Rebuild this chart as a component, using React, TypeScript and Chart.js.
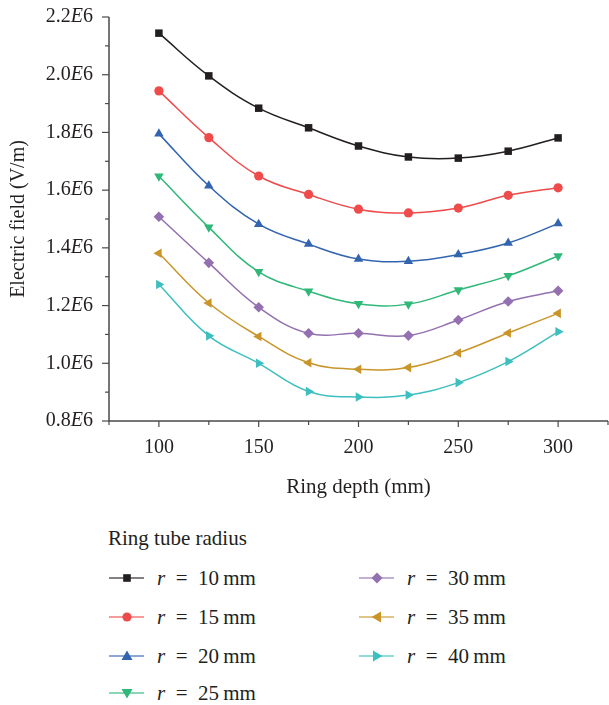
import React, { useEffect, useRef } from 'react';
import { Chart, registerables } from 'chart.js';
Chart.register(...registerables);

const depths = [100, 125, 150, 175, 200, 225, 250, 275, 300];
const r10 = [2.144, 1.996, 1.884, 1.816, 1.753, 1.715, 1.711, 1.735, 1.781];
const r15 = [1.944, 1.782, 1.649, 1.585, 1.534, 1.521, 1.538, 1.582, 1.608];
const r20 = [1.795, 1.615, 1.482, 1.413, 1.361, 1.354, 1.377, 1.417, 1.484];
const r25 = [1.648, 1.471, 1.317, 1.25, 1.206, 1.205, 1.254, 1.303, 1.372];
const r30 = [1.508, 1.348, 1.194, 1.104, 1.104, 1.096, 1.15, 1.214, 1.251];
const r35 = [1.381, 1.209, 1.093, 1.002, 0.979, 0.985, 1.036, 1.105, 1.173];
const r40 = [1.273, 1.095, 1.0, 0.902, 0.883, 0.89, 0.933, 1.006, 1.109];

const seriesNames = ['r10', 'r15', 'r20', 'r25', 'r30', 'r35', 'r40'];
const seriesRadii = ['10', '15', '20', '25', '30', '35', '40'];
const seriesValues = [r10, r15, r20, r25, r30, r35, r40];
const seriesColors = ['#231f20', '#ef4b4b', '#3364b0', '#2fb878', '#9370b0', '#c9952a', '#3dbfbf'];
const seriesShapes = ['square', 'circle', 'up', 'down', 'diamond', 'left', 'right'];

const yTickValues = [0.8, 1.0, 1.2, 1.4, 1.6, 1.8, 2.0, 2.2];
const yTickLabels = ['0.8', '1.0', '1.2', '1.4', '1.6', '1.8', '2.0', '2.2'];
const xTickValues = [100, 150, 200, 250, 300];
const xTickLabels = ['100', '150', '200', '250', '300'];

const FONT = '"Liberation Serif", "Times New Roman", serif';
const TEXT = '#231f20';
const AXIS = '#4a4a4a';

function pointStyleFor(shape: string) {
  switch (shape) {
    case 'square': return { pointStyle: 'rect', pointRadius: 5.3, pointRotation: 0 };
    case 'circle': return { pointStyle: 'circle', pointRadius: 4.6, pointRotation: 0 };
    case 'up': return { pointStyle: 'triangle', pointRadius: 5.5, pointRotation: 0 };
    case 'down': return { pointStyle: 'triangle', pointRadius: 5.5, pointRotation: 180 };
    case 'diamond': return { pointStyle: 'rectRot', pointRadius: 5.3, pointRotation: 0 };
    case 'left': return { pointStyle: 'triangle', pointRadius: 5.5, pointRotation: 270 };
    default: return { pointStyle: 'triangle', pointRadius: 5.5, pointRotation: 90 };
  }
}

const decor = {
  id: 'decor',
  afterDraw(chart: any) {
    const { ctx, chartArea: a, scales } = chart;
    const xs = scales.x;
    const ys = scales.y;
    ctx.save();
    ctx.strokeStyle = AXIS;
    ctx.lineWidth = 1.5;
    ctx.beginPath();
    ctx.moveTo(a.left, a.top);
    ctx.lineTo(a.left, a.bottom);
    ctx.lineTo(a.right, a.bottom);
    ctx.stroke();
    ctx.lineWidth = 1.2;
    for (let i = 8; i <= 22; i++) {
      const yy = ys.getPixelForValue(i * 1e5);
      const len = i % 2 === 0 ? 7 : 4;
      ctx.beginPath();
      ctx.moveTo(a.left, yy);
      ctx.lineTo(a.left - len, yy);
      ctx.stroke();
    }
    for (let v = 75; v <= 325; v += 25) {
      const xx = xs.getPixelForValue(v);
      const len = v % 50 === 0 ? 6 : 4;
      ctx.beginPath();
      ctx.moveTo(xx, a.bottom);
      ctx.lineTo(xx, a.bottom + len);
      ctx.stroke();
    }
    ctx.fillStyle = TEXT;
    const fN = `20px ${FONT}`;
    const fI = `italic 20px ${FONT}`;
    ctx.textBaseline = 'middle';
    ctx.textAlign = 'left';
    yTickValues.forEach((v, i) => {
      const yy = ys.getPixelForValue(v * 1e6);
      const num = yTickLabels[i];
      ctx.font = fN;
      const w1 = ctx.measureText(num).width;
      const w3 = ctx.measureText('6').width;
      ctx.font = fI;
      const w2 = ctx.measureText('E').width;
      let x0 = a.left - 16 - (w1 + w2 + w3);
      ctx.font = fN;
      ctx.fillText(num, x0, yy);
      x0 += w1;
      ctx.font = fI;
      ctx.fillText('E', x0, yy);
      x0 += w2;
      ctx.font = fN;
      ctx.fillText('6', x0, yy);
    });
    ctx.font = fN;
    ctx.textAlign = 'center';
    xTickValues.forEach((v, i) => {
      ctx.fillText(xTickLabels[i], xs.getPixelForValue(v), a.bottom + 27);
    });
    ctx.font = `21px ${FONT}`;
    ctx.fillText('Ring depth (mm)', (a.left + a.right) / 2, a.bottom + 66);
    ctx.save();
    ctx.translate(19, (a.top + a.bottom) / 2);
    ctx.rotate(-Math.PI / 2);
    ctx.font = `20px ${FONT}`;
    ctx.fillText('Electric field (V/m)', 0, 0);
    ctx.restore();
    ctx.restore();
  },
};

function Marker({ shape, color }: { shape: string; color: string }) {
  const cx = 18, cy = 10;
  let m: any;
  if (shape === 'square') m = <rect x={cx - 3.8} y={cy - 3.8} width={7.6} height={7.6} fill={color} />;
  else if (shape === 'circle') m = <circle cx={cx} cy={cy} r={4.6} fill={color} />;
  else if (shape === 'up') m = <polygon points={`${cx},${cy - 5.5} ${cx - 5.5},${cy + 4} ${cx + 5.5},${cy + 4}`} fill={color} />;
  else if (shape === 'down') m = <polygon points={`${cx},${cy + 5.5} ${cx - 5.5},${cy - 4} ${cx + 5.5},${cy - 4}`} fill={color} />;
  else if (shape === 'diamond') m = <polygon points={`${cx},${cy - 5.5} ${cx + 5.5},${cy} ${cx},${cy + 5.5} ${cx - 5.5},${cy}`} fill={color} />;
  else if (shape === 'left') m = <polygon points={`${cx - 5.5},${cy} ${cx + 4},${cy - 5.5} ${cx + 4},${cy + 5.5}`} fill={color} />;
  else m = <polygon points={`${cx + 5.5},${cy} ${cx - 4},${cy - 5.5} ${cx - 4},${cy + 5.5}`} fill={color} />;
  return (
    <svg width={36} height={20} style={{ display: 'block' }}>
      <line x1={0} y1={cy} x2={35} y2={cy} stroke={color} strokeWidth={1.6} strokeOpacity={0.75} />
      {m}
    </svg>
  );
}

export default function App() {
  const ref = useRef<HTMLCanvasElement>(null);
  useEffect(() => {
    if (!ref.current) return;
    const chart = new Chart(ref.current, {
      type: 'line',
      data: {
        datasets: seriesValues.map((vals, i) => ({
          label: seriesNames[i],
          data: vals.map((v, j) => ({ x: depths[j], y: v * 1e6 })),
          borderColor: seriesColors[i],
          backgroundColor: seriesColors[i],
          pointBackgroundColor: seriesColors[i],
          pointBorderColor: seriesColors[i],
          pointBorderWidth: 0,
          borderWidth: 1.5,
          tension: 0.4,
          clip: false as any,
          ...pointStyleFor(seriesShapes[i]),
        })),
      },
      options: {
        animation: false,
        responsive: false,
        maintainAspectRatio: false,
        layout: { autoPadding: false, padding: { left: 0, right: 1, top: 17, bottom: 0 } },
        plugins: { legend: { display: false }, tooltip: { enabled: false } },
        scales: {
          x: {
            type: 'linear', min: 75, max: 325,
            grid: { display: false }, border: { display: false }, ticks: { display: false },
            afterFit: (s: any) => { s.height = 89; },
          },
          y: {
            type: 'linear', min: 0.8e6, max: 2.2e6,
            grid: { display: false }, border: { display: false }, ticks: { display: false },
            afterFit: (s: any) => { s.width = 109; },
          },
        },
      } as any,
      plugins: [decor],
    });
    return () => chart.destroy();
  }, []);

  const rowY = [578, 617, 656, 693];
  const items = seriesNames.map((_, i) => {
    const col = i < 4 ? 0 : 1;
    const row = i < 4 ? i : i - 4;
    return { i, left: col === 0 ? 109 : 359, cy: rowY[row] };
  });

  return (
    <div style={{ position: 'absolute', left: 0, top: 0, width: 609, height: 705, background: '#fff', fontFamily: FONT, color: TEXT }}>
      <canvas ref={ref} width={609} height={510} style={{ position: 'absolute', left: 0, top: 0, width: 609, height: 510 }} />
      <div style={{ position: 'absolute', left: 108, top: 538 - 14, height: 28, lineHeight: '28px', fontSize: 21, whiteSpace: 'nowrap' }}>Ring tube radius</div>
      {items.map(({ i, left, cy }) => (
        <div key={i}>
          <div style={{ position: 'absolute', left, top: cy - 10 }}>
            <Marker shape={seriesShapes[i]} color={seriesColors[i]} />
          </div>
          <div style={{ position: 'absolute', left: left + 48, top: cy - 14, height: 28, lineHeight: '28px', fontSize: 21, whiteSpace: 'nowrap' }}>
            <i>r</i>{'\u2002'}={'\u2002'}{seriesRadii[i]}{'\u2009'}mm
          </div>
        </div>
      ))}
    </div>
  );
}
